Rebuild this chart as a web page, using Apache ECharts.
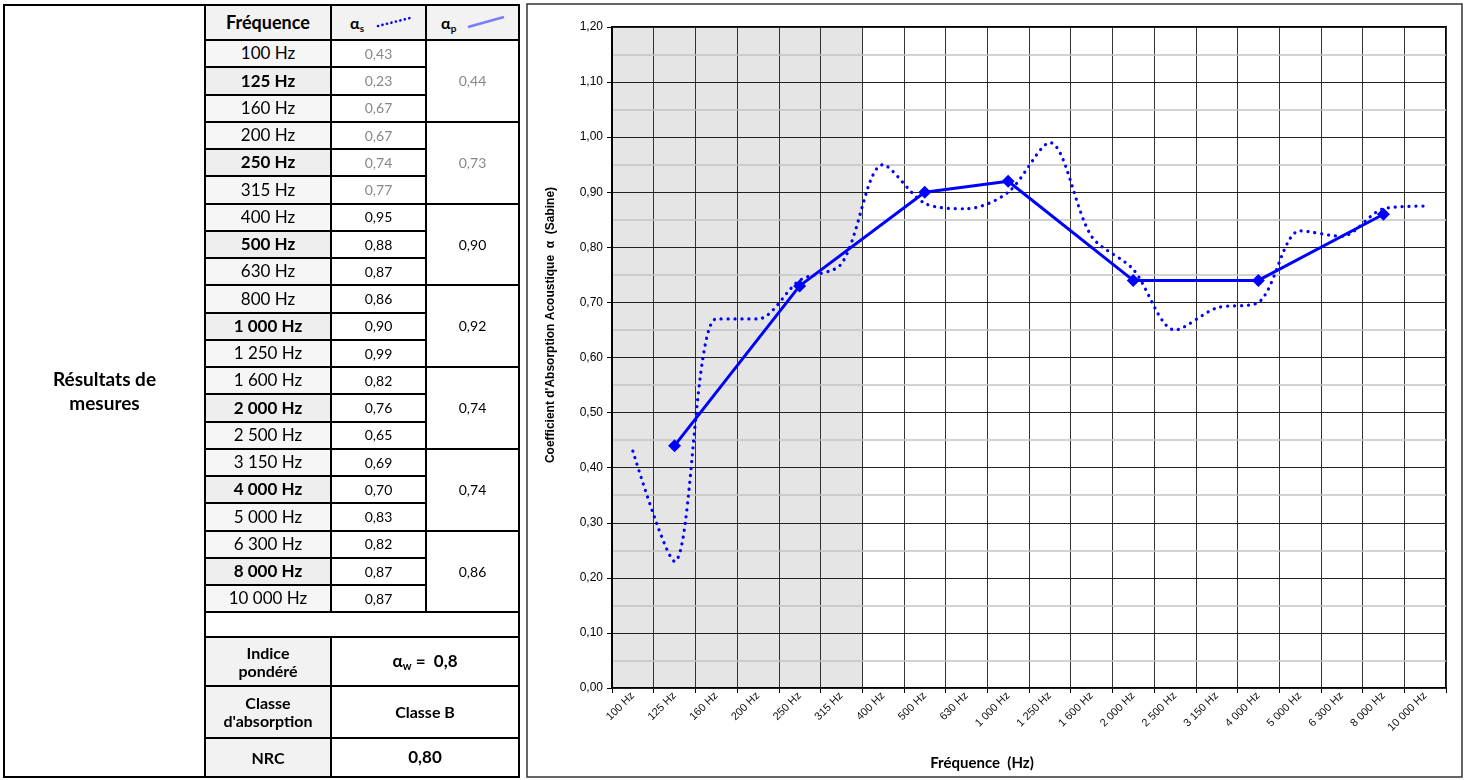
<!DOCTYPE html>
<html>
<head>
<meta charset="utf-8">
<script src="https://cdn.jsdelivr.net/npm/echarts@6/dist/echarts.min.js"></script>
<style>
html,body{margin:0;padding:0;background:#fff;}
#chart{position:absolute;left:0;top:0;width:1469px;height:780px;}
#table{position:absolute;left:0;top:0;width:530px;height:780px;font-family:Lato,'Noto Sans',sans-serif;color:#000;}
.c{position:absolute;box-sizing:border-box;border:2px solid #000;display:flex;align-items:center;justify-content:center;text-align:center;line-height:1.1;}
sub{vertical-align:-0.25em;line-height:0;}
</style>
</head>
<body>
<div id="chart"></div>
<div id="table"></div>
<script>
// ---- data ----
const tableFreqs = ['100 Hz','125 Hz','160 Hz','200 Hz','250 Hz','315 Hz','400 Hz','500 Hz','630 Hz','800 Hz','1 000 Hz','1 250 Hz','1 600 Hz','2 000 Hz','2 500 Hz','3 150 Hz','4 000 Hz','5 000 Hz','6 300 Hz','8 000 Hz','10 000 Hz'];
const tableAlphaS = ['0,43','0,23','0,67','0,67','0,74','0,77','0,95','0,88','0,87','0,86','0,90','0,99','0,82','0,76','0,65','0,69','0,70','0,83','0,82','0,87','0,87'];
const tableAlphaP = ['0,44','0,73','0,90','0,92','0,74','0,74','0,86'];
const chartCategories = ['100 Hz','125 Hz','160 Hz','200 Hz','250 Hz','315 Hz','400 Hz','500 Hz','630 Hz','1 000 Hz','1 250 Hz','1 600 Hz','2 000 Hz','2 500 Hz','3 150 Hz','4 000 Hz','5 000 Hz','6 300 Hz','8 000 Hz','10 000 Hz'];
const chartAlphaS = [0.43,0.23,0.67,0.67,0.74,0.77,0.95,0.88,0.87,0.90,0.99,0.82,0.76,0.65,0.69,0.70,0.83,0.82,0.87,0.875];
const chartAlphaP = [null,0.44,null,null,0.73,null,null,0.90,null,0.92,null,null,0.74,null,null,0.74,null,null,0.86,null];
const shadedCount = 6;
const yTicks = [0,0.1,0.2,0.3,0.4,0.5,0.6,0.7,0.8,0.9,1.0,1.1,1.2];

// ---- table ----
const T = document.getElementById('table');
function cell(x1,y1,x2,y2,html,style){
  const d=document.createElement('div');
  d.className='c';
  d.style.left=x1+'px';d.style.top=y1+'px';
  d.style.width=(x2-x1+2)+'px';d.style.height=(y2-y1+2)+'px';
  if(style) d.style.cssText+=style;
  d.innerHTML='<span>'+html+'</span>';
  T.appendChild(d);
  return d;
}
const X0=3,X1=204,X2=330,X3=425,X4=518;
const Y0=4,YH=39,RH=27.25;
cell(X0,Y0,X1,776,'Résultats de<br>mesures','font-weight:bold;font-size:19px;line-height:1.25;');
cell(X1,Y0,X2,YH,'Fréquence','background:#f2f2f2;font-weight:bold;font-size:18px;');
cell(X2,Y0,X3,YH,'<span style="font-weight:bold;font-size:16px">α<sub style="font-size:10px">s</sub></span><svg width="36" height="14" style="margin-left:12px"><line x1="2" y1="11" x2="34" y2="3" stroke="#0000ff" stroke-width="2.6" stroke-dasharray="0.1 4.5" stroke-linecap="round"/></svg>','background:#f2f2f2;justify-content:flex-start;padding-left:18px;');
cell(X3,Y0,X4,YH,'<span style="font-weight:bold;font-size:16px">α<sub style="font-size:10px">p</sub></span><svg width="40" height="14" style="margin-left:10px"><line x1="2" y1="12" x2="38" y2="2" stroke="#7b7bff" stroke-width="2.6"/></svg>','background:#f2f2f2;justify-content:flex-start;padding-left:14px;');
for(let i=0;i<tableFreqs.length;i++){
  const y1=YH+RH*i, y2=YH+RH*(i+1);
  const bold = (i%3===1);
  const gray = i<6;
  cell(X1,y1,X2,y2,tableFreqs[i],'background:'+(bold?'#eeeeee':'#f6f6f6')+';font-size:17px;'+(bold?'font-weight:bold;':''));
  cell(X2,y1,X3,y2,tableAlphaS[i],'font-size:14px;color:'+(gray?'#888':'#000')+';');
}
for(let g=0;g<tableAlphaP.length;g++){
  const y1=YH+RH*3*g, y2=YH+RH*3*(g+1);
  cell(X3,y1,X4,y2,tableAlphaP[g],'font-size:14px;color:'+(g<2?'#888':'#000')+';');
}
const YE=YH+RH*21;
cell(X1,YE,X4,636,'','');
cell(X1,636,X2,685,'Indice<br>pondéré','background:#f2f2f2;font-weight:bold;font-size:16px;');
cell(X2,636,X4,685,'α<sub style="font-size:11px">w</sub>&nbsp;=&nbsp; 0,8','font-weight:bold;font-size:17px;');
cell(X1,685,X2,737,'Classe<br>d\'absorption','background:#f2f2f2;font-weight:bold;font-size:16px;');
cell(X2,685,X4,737,'Classe B','font-weight:bold;font-size:16px;');
cell(X1,737,X2,776,'NRC','background:#f2f2f2;font-weight:bold;font-size:16px;');
cell(X2,737,X4,776,'0,80','font-weight:bold;font-size:17px;');

// ---- chart ----
const areaColors = chartCategories.map((c,i)=> i<shadedCount ? '#e5e5e5' : 'rgba(255,255,255,0)');
const chart = echarts.init(document.getElementById('chart'));
chart.setOption({
  animation:false,
  backgroundColor:'#fff',
  graphic:[
    {type:'rect',shape:{x:527,y:4,width:935,height:773},style:{fill:'none',stroke:'#333',lineWidth:1.5},z:-10},
    {type:'text',x:551,y:325,rotation:Math.PI/2,style:{text:"Coefficient d'Absorption Acoustique  α  (Sabine)",font:'bold 12px "Liberation Sans", Arial, sans-serif',fill:'#000',align:'center',verticalAlign:'middle'}},
    {type:'text',x:982,y:763,style:{text:'Fréquence  (Hz)',font:'bold 15px Lato, "Noto Sans", sans-serif',fill:'#000',align:'center',verticalAlign:'middle'}}
  ],
  grid:{left:612,right:23,top:27,bottom:92,show:true,borderColor:'#000',borderWidth:2,backgroundColor:'transparent'},
  xAxis:{
    type:'category',data:chartCategories,boundaryGap:true,z:0,
    axisLine:{lineStyle:{color:'#000',width:2}},
    axisTick:{show:true,interval:0,length:5,lineStyle:{color:'#000'}},
    axisLabel:{interval:0,rotate:45,fontSize:11,color:'#111',fontFamily:'"Liberation Sans", Arial, sans-serif',margin:6},
    splitLine:{show:true,interval:0,lineStyle:{color:'#333',width:1}},
    splitArea:{show:true,interval:0,areaStyle:{color:areaColors}}
  },
  yAxis:{
    type:'value',min:yTicks[0],max:yTicks[yTicks.length-1],interval:0.1,z:1,
    axisLine:{show:true,lineStyle:{color:'#000',width:2}},
    axisTick:{show:true,length:5,lineStyle:{color:'#000'}},
    axisLabel:{fontSize:12,color:'#000',fontFamily:'"Liberation Sans", Arial, sans-serif',margin:9,formatter:v=>v.toFixed(2).replace('.',',')},
    splitLine:{show:true,lineStyle:{color:'#222',width:1}},
    minorTick:{show:false,splitNumber:2},
    minorSplitLine:{show:true,lineStyle:{color:'#c4c4c4',width:1.5}}
  },
  series:[
    {name:'αs',type:'line',data:chartAlphaS,smooth:0.3,symbol:'none',z:3,
     lineStyle:{color:'#0000ff',width:3.2,type:[0.1,6.8],cap:'round'}},
    {name:'αp',type:'line',data:chartAlphaP,connectNulls:true,symbol:'diamond',symbolSize:13,z:4,
     itemStyle:{color:'#0000ff'},lineStyle:{color:'#0000ff',width:3}}
  ]
});
</script>
</body>
</html>
